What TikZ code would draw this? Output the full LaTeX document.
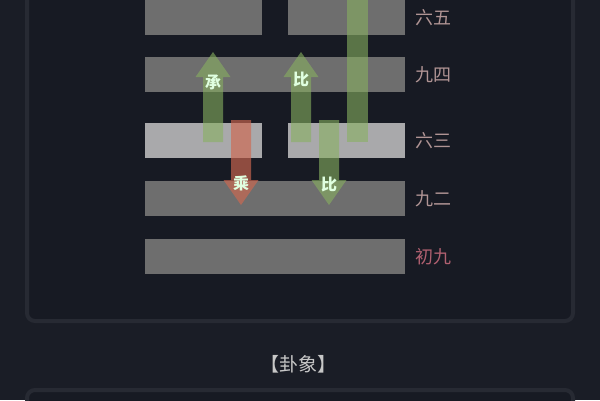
\documentclass[tikz,border=0pt]{standalone}
\usepackage{fontspec}
\newfontfamily\cjk{Noto Sans CJK SC}
\usetikzlibrary{shapes,arrows.meta,positioning,calc}
\definecolor{bgdark}{HTML}{1A1D26}
\definecolor{panelbg}{HTML}{171A23}
\definecolor{rim}{HTML}{272A33}
\definecolor{yaogrey}{HTML}{6E6E6E}
\definecolor{yaolight}{HTML}{A9A9AB}
\definecolor{yaotext}{HTML}{B09494}
\definecolor{yaored}{HTML}{B06070}
\definecolor{bigreen}{HTML}{88B060}
\definecolor{chengred}{HTML}{D06850}
\tikzstyle{yang} = [rectangle, fill=yaogrey, minimum width=260pt, minimum height=35pt, outer sep=0pt, inner sep=0pt, anchor=north west]
\tikzstyle{yin} = [yang, minimum width=117pt]
\tikzstyle{yaoname} = [text=yaotext, font=\cjk\fontsize{18}{18}\selectfont, inner sep=0pt, anchor=west]
\tikzstyle{relation} = [line width=20pt, -{Triangle[width=35pt, length=25pt, line width=0pt]}]
\tikzstyle{reltext} = [text=white!88!green, font=\cjk\bfseries\fontsize{16}{16}\selectfont, inner sep=0pt]

\begin{document}
\begin{tikzpicture}[x=1pt, y=-1pt, node distance=10pt]
    \fill[bgdark] (0,0) rectangle (600,400);
    \useasboundingbox (0,0) rectangle (600,400);
    \draw[rim, line width=4pt, fill=panelbg, rounded corners=8pt] (27,-20) rectangle (573,321);
    \draw[rim, line width=4pt, fill=panelbg, rounded corners=8pt] (27,390) rectangle (573,440);

    % lines of the hexagram
    \node[yin] (l5a) at (145,0) {};
    \node[yin] (l5b) at (288,0) {};
    \node[yang] (l4) at (145,57) {};
    \node[yin, fill=yaolight] (l3a) at (145,123) {};
    \node[yin, fill=yaolight] (l3b) at (288,123) {};
    \node[yang] (l2) at (145,181) {};
    \node[yang] (l1) at (145,239) {};

    \node[yaoname, right=of l5b.east] {六五};
    \node[yaoname, right=of l4.east] {九四};
    \node[yaoname, right=of l3b.east] {六三};
    \node[yaoname, right=of l2.east] {九二};
    \node[yaoname, right=of l1.east, text=yaored] {初九};

    \coordinate (cheng-tail) at (213,142);
    \coordinate (cheng-tip) at (213,52);
    \coordinate (biu-tail) at (301,142);
    \coordinate (biu-tip) at (301,52);
    \coordinate (top-end) at (357,-5);
    \coordinate (top-mid) at (357,142);
    \coordinate (sheng-tail) at (241,120);
    \coordinate (sheng-tip) at (241,205);
    \coordinate (bid-tail) at (329,120);
    \coordinate (bid-tip) at (329,205);

    \begin{scope}[transparency group, opacity=0.6]
        \draw[bigreen, relation] (cheng-tail) -- (cheng-tip);
    \end{scope}
    \begin{scope}[transparency group, opacity=0.6]
        \draw[bigreen, relation] (biu-tail) -- (biu-tip);
    \end{scope}
    \draw[bigreen, line width=21pt, opacity=0.6] (top-end) -- (top-mid);
    \begin{scope}[transparency group, opacity=0.65]
        \draw[chengred, relation] (sheng-tail) -- (sheng-tip);
    \end{scope}
    \begin{scope}[transparency group, opacity=0.6]
        \draw[bigreen, relation] (bid-tail) -- (bid-tip);
    \end{scope}

    \node[reltext] (cheng) at ($(cheng-tip)!0.34!(cheng-tail)$) {承};
    \node[reltext] (biu) at ($(biu-tip)!0.31!(biu-tail)$) {比};
    \node[reltext] (sheng) at ($(sheng-tip)!0.26!(sheng-tail)$) {乘};
    \node[reltext] (bid) at ($(bid-tip)!0.24!(bid-tail)$) {比};

    \node[text=black!22!white, font=\cjk\fontsize{19}{19}\selectfont] (title) at (298,364) {【卦象】};
\end{tikzpicture}
\end{document}
